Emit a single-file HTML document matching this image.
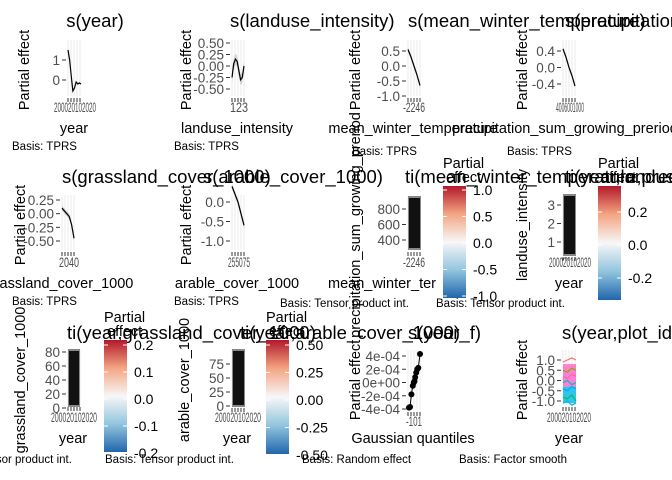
<!DOCTYPE html>
<html><head><meta charset="utf-8"><style>
html,body{margin:0;padding:0;background:#fff;}
svg{display:block;font-family:"Liberation Sans",Arial,sans-serif;}
.t{font-size:18.5px;fill:#000;}
.ax{font-size:14.5px;fill:#000;}
.lg{font-size:14px;fill:#000;}
.tk{font-size:13.5px;fill:#4d4d4d;}
.bs{font-size:11.5px;fill:#000;}
</style></head><body>
<svg id="c" width="672" height="480" viewBox="0 0 672 480">
<defs>
<linearGradient id="rb" x1="0" y1="1" x2="0" y2="0">
<stop offset="0" stop-color="#2166ac"/><stop offset="0.25" stop-color="#92c5de"/><stop offset="0.5" stop-color="#f7f7f7"/><stop offset="0.75" stop-color="#f4a582"/><stop offset="1" stop-color="#b2182b"/>
</linearGradient>
</defs>
</svg>
<script>
// ---- data arrays ----
const yearEffect = [1.5, 1.0, 0.2, -0.55, -0.4, -0.1, -0.2, -0.15, -0.2];
const landuseEffect = [-0.25, 0.05, 0.15, 0.1, -0.1, -0.3, -0.25, 0.0];
const winterTempEffect = [0.55, 0.3, 0.0, -0.3, -0.65];
const precipEffect = [0.45, 0.25, 0.0, -0.2, -0.45];
const grasslandEffect = [0.1, 0.05, 0.0, -0.05, -0.2, -0.45];
const arableEffect = [0.4, 0.2, 0.0, -0.3, -0.6];
const reQuantiles = [-1.6, -1.3, -0.9, -0.5, -0.2, 0.0, 0.2, 0.5, 0.8, 1.1, 1.6];
const reEffects = [-3.8e-4, -3.7e-4, -1.8e-4, -0.5e-4, 0, 0.2e-4, 0.8e-4, 1.5e-4, 2e-4, 2.2e-4, 4.3e-4];
const plotSeries = [[0.9, 1.0, 1.1, 1.0], [0.5, 0.4, 0.6, 0.5], [0.2, 0.1, 0.3, 0.2], [-0.1, 0.0, -0.2, -0.1], [-0.4, -0.5, -0.3, -0.4], [-0.8, -0.9, -0.7, -1.0], [-1.1, -1.0, -1.2, -1.1]];
const plotColors = ["#f8766d", "#7cae00", "#ff61c3", "#00bfc4", "#00a9ff", "#00be67", "#00b8e7"];

const svg = document.getElementById('c');
const NS = 'http://www.w3.org/2000/svg';
function el(tag, attrs, parent) {
  const e = document.createElementNS(NS, tag);
  for (const k in attrs) e.setAttribute(k, attrs[k]);
  (parent || svg).appendChild(e);
  return e;
}
function txt(s, x, y, cls, anchor, rot, len) {
  const e = el('text', {x: x, y: y, class: cls, 'text-anchor': anchor || 'start'});
  if (rot) e.setAttribute('transform', 'rotate(-90 ' + x + ' ' + y + ')');
  if (len) { e.setAttribute('textLength', len); e.setAttribute('lengthAdjust', 'spacingAndGlyphs'); }
  e.textContent = s;
  return e;
}
function lin(v1, p1, v2, p2) { return v => p1 + (v - v1) * (p2 - p1) / (v2 - v1); }

function frame(x0, x1, y0, y1, name) {
  const g = el('g', {});
  
  
  for (let x = x0; x <= x1; x += 3) el('line', {x1: x, x2: x, y1: y0, y2: y1, stroke: '#ebebeb', 'stroke-width': 1}, g);
  for (let x = x0; x <= x1; x += 3) el('line', {x1: x, x2: x, y1: y1 + 2, y2: y1 + 6, stroke: '#333', 'stroke-width': 1}, g);
  return g;
}
function yticks(g, ticks, labels, ys, xLeft) {
  ticks.forEach((t, i) => {
    const y = ys(t);
    el('line', {x1: xLeft - 6, x2: xLeft - 2, y1: y, y2: y, stroke: '#333'}, g);
    txt(labels[i], xLeft - 8, y + 5, 'tk', 'end');
  });
}
function linePanel(vals, x0, x1, ys, g, band) {
  const xs = lin(0, x0, vals.length - 1, x1);
  if (band) {
    let up = vals.map((v, i) => xs(i) + ',' + ys(v + band)).join(' ');
    let dn = vals.map((v, i) => xs(i) + ',' + ys(v - band)).reverse().join(' ');
    el('polygon', {points: up + ' ' + dn, fill: '#000', 'fill-opacity': 0.15}, g);
  }
  el('polyline', {points: vals.map((v, i) => xs(i) + ',' + ys(v)).join(' '), fill: 'none', stroke: '#000', 'stroke-width': 1.2}, g);
}
function colorbar(x, y0, y1, ticks, labels, vs, name) {
  const g = el('g', {});
  
  
  el('rect', {x: x, y: y0, width: 23, height: y1 - y0, fill: 'url(#rb)'}, g);
  ticks.forEach((t, i) => {
    const y = vs(t);
    el('line', {x1: x, x2: x + 4, y1: y, y2: y, stroke: '#fff'}, g);
    el('line', {x1: x + 19, x2: x + 23, y1: y, y2: y, stroke: '#fff'}, g);
    txt(labels[i], x + 30, y + 5, 'lg');
  });
  txt('Partial', x, y0 - 18, 'ax');
  txt('effect', x + 3, y0 - 4, 'ax');
}
function heat(x0, x1, y0, y1, g) {
  el('rect', {x: x0, y: y0, width: x1 - x0, height: y1 - y0, fill: '#888'}, g);
  el('rect', {x: x0 + 1, y: y0 + 2, width: x1 - x0 - 2, height: y1 - y0 - 4, fill: '#111'}, g);
}

// ---------- Row 1 ----------
let g, ys;
txt('s(year)', 95, 27, 't', 'middle');
g = frame(68, 82, 40, 96, 'year-smooth-panel');
ys = lin(0, 80, 1, 60);
yticks(g, [1, 0], ['1', '0'], ys, 68);
linePanel(yearEffect, 68, 81, ys, g, 0.05);
txt('200020102020', 75, 112, 'tk', 'middle', false, 42);
txt('year', 74, 133, 'ax', 'middle');
txt('Partial effect', 29, 70, 'ax', 'middle', true);
txt('Basis: TPRS', 12, 150, 'bs');

txt('s(landuse_intensity)', 230, 27, 't');
g = frame(232, 245, 40, 96, 'landuse-smooth-panel');
ys = lin(0.5, 43, -0.5, 89);
yticks(g, [0.5, 0.25, 0, -0.25, -0.5], ['0.50', '0.25', '0.00', '-0.25', '-0.50'], ys, 232);
linePanel(landuseEffect, 232, 244, ys, g, 0.12);
txt('123', 239, 112, 'tk', 'middle', false, 18);
txt('landuse_intensity', 237, 133, 'ax', 'middle');
txt('Partial effect', 191, 70, 'ax', 'middle', true);
txt('Basis: TPRS', 174, 150, 'bs');

txt('s(mean_winter_temperature)', 408, 27, 't');
g = frame(408, 420, 40, 96, 'winter-temp-smooth-panel');
ys = lin(0.5, 51, -1, 96);
yticks(g, [0.5, 0, -0.5, -1], ['0.5', '0.0', '-0.5', '-1.0'], ys, 408);
linePanel(winterTempEffect, 408, 420, ys, g, 0.08);
txt('-2246', 414, 112, 'tk', 'middle', false, 22);
txt('mean_winter_temperature', 413, 133, 'ax', 'middle');
txt('Partial effect', 360, 70, 'ax', 'middle', true);
txt('Basis: TPRS', 352, 155, 'bs');

txt('s(precipitation_sum_growing_preriod)', 565, 27, 't');
g = frame(563, 576, 40, 96, 'precip-smooth-panel');
ys = lin(0.4, 51, -0.4, 84);
yticks(g, [0.4, 0, -0.4], ['0.4', '0.0', '-0.4'], ys, 563);
linePanel(precipEffect, 563, 575, ys, g, 0.06);
txt('4006001000', 570, 112, 'tk', 'middle', false, 28);
txt('precipitation_sum_growing_preriod', 565, 133, 'ax', 'middle');
txt('Partial effect', 527, 70, 'ax', 'middle', true);
txt('Basis: TPRS', 507, 155, 'bs');

// ---------- Row 2 ----------
txt('s(grassland_cover_1000)', 62, 183, 't');
g = frame(62, 75, 195, 250, 'grassland-smooth-panel');
ys = lin(0.25, 200, -0.5, 241);
yticks(g, [0.25, 0, -0.25, -0.5], ['0.25', '0.00', '-0.25', '-0.50'], ys, 62);
linePanel(grasslandEffect, 62, 74, ys, g, 0.05);
txt('2040', 69, 267, 'tk', 'middle', false, 20);
txt('grassland_cover_1000', 60, 288, 'ax', 'middle');
txt('Partial effect', 25, 225, 'ax', 'middle', true);
txt('Basis: TPRS', 12, 305, 'bs');

txt('s(arable_cover_1000)', 203, 183, 't');
g = frame(232, 245, 195, 250, 'arable-smooth-panel');
ys = lin(0, 202, -1, 241);
yticks(g, [0, -0.5, -1], ['0.0', '-0.5', '-1.0'], ys, 232);
linePanel(arableEffect, 232, 244, ys, g, 0.08);
txt('255075', 239, 267, 'tk', 'middle', false, 22);
txt('arable_cover_1000', 237, 288, 'ax', 'middle');
txt('Partial effect', 191, 225, 'ax', 'middle', true);
txt('Basis: TPRS', 174, 305, 'bs');

txt('ti(mean_winter_temperature,precipitation_sum_growing_preriod)', 405, 183, 't');
g = frame(408, 421, 197, 250, 'winter-precip-tensor-panel');
heat(408, 421, 196, 250, g);
ys = lin(800, 209, 400, 240);
yticks(g, [800, 600, 400], ['800', '600', '400'], ys, 408);
txt('-2246', 414, 267, 'tk', 'middle', false, 22);
txt('mean_winter_ter', 382, 288, 'ax', 'middle');
txt('precipitation_sum_growing_preriod', 360, 225, 'ax', 'middle', true);
colorbar(443, 186, 298, [1, 0.5, 0, -0.5, -1], ['1.0', '0.5', '0.0', '-0.5', '-1.0'], lin(1, 190, -1, 296), 'legend-colorbar-winter-precip');

txt('ti(year,landuse_intensity)', 565, 183, 't');
g = frame(563, 576, 195, 255, 'year-landuse-tensor-panel');
heat(563, 576, 194, 256, g);
ys = lin(3, 205, 1, 242);
yticks(g, [3, 2, 1], ['3', '2', '1'], ys, 563);
txt('200020102020', 570, 267, 'tk', 'middle', false, 42);
txt('year', 569, 288, 'ax', 'middle');
txt('landuse_intensity', 527, 225, 'ax', 'middle', true);
colorbar(598, 186, 300, [0.2, 0, -0.2], ['0.2', '0.0', '-0.2'], lin(0.2, 212, -0.2, 278), 'legend-colorbar-year-landuse');
txt('Basis: Tensor product int.', 436, 307, 'bs');
txt('Basis: Tensor product int.', 280, 307, 'bs');

// ---------- Row 3 ----------
txt('ti(year,grassland_cover_1000)', 67, 339, 't');
g = frame(68, 80, 350, 405, 'year-grassland-tensor-panel');
heat(68, 80, 349, 407, g);
ys = lin(80, 352, 0, 408);
yticks(g, [80, 60, 40, 20, 0], ['80', '60', '40', '20', '0'], ys, 68);
txt('200020102020', 74, 422, 'tk', 'middle', false, 46);
txt('year', 73, 443, 'ax', 'middle');
txt('grassland_cover_1000', 25, 380, 'ax', 'middle', true);
colorbar(104, 340, 452, [0.2, 0.1, 0, -0.1, -0.2], ['0.2', '0.1', '0.0', '-0.1', '-0.2'], lin(0.2, 345, -0.2, 453), 'legend-colorbar-year-grassland');
txt('Basis: Tensor product int.', -57, 463, 'bs');

txt('ti(year,arable_cover_1000)', 240, 339, 't');
g = frame(232, 245, 350, 406, 'year-arable-tensor-panel');
heat(232, 245, 349, 407, g);
ys = lin(75, 364, 0, 406);
yticks(g, [75, 50, 25, 0], ['75', '50', '25', '0'], ys, 232);
txt('200020102020', 238, 422, 'tk', 'middle', false, 46);
txt('year', 237, 443, 'ax', 'middle');
txt('arable_cover_1000', 189, 380, 'ax', 'middle', true);
colorbar(266, 340, 454, [0.5, 0.25, 0, -0.25, -0.5], ['0.50', '0.25', '0.00', '-0.25', '-0.50'], lin(0.5, 345, -0.5, 455), 'legend-colorbar-year-arable');
txt('Basis: Tensor product int.', 105, 463, 'bs');

txt('s(year_f)', 408, 339, 't');
g = frame(408, 420, 350, 410, 'year-f-random-effect-panel');
ys = lin(4e-4, 356, -4e-4, 409);
yticks(g, [4e-4, 2e-4, 0, -2e-4, -4e-4], ['4e-04', '2e-04', '0e+00', '-2e-04', '-4e-04'], ys, 408);
const xq = lin(-1.6, 409, 1.6, 420);
el('polyline', {points: reQuantiles.map((q, i) => xq(q) + ',' + ys(reEffects[i])).join(' '), fill: 'none', stroke: '#000'}, g);
reQuantiles.forEach((q, i) => {
  const c = el('circle', {cx: xq(q), cy: ys(reEffects[i]), r: 3, fill: '#000'}, g);
  
  
});
txt('-101', 414, 426, 'tk', 'middle', false, 16);
txt('Gaussian quantiles', 413, 443, 'ax', 'middle');
txt('Partial effect', 360, 380, 'ax', 'middle', true);
txt('Basis: Random effect', 302, 463, 'bs');

txt('s(year,plot_id)', 562, 339, 't');
g = frame(563, 576, 350, 405, 'year-plot-factor-smooth-panel');
ys = lin(1, 360, -1, 401);
yticks(g, [1, 0.5, 0, -0.5, -1], ['1.0', '0.5', '0.0', '-0.5', '-1.0'], ys, 563);
el('rect', {x: 563, y: ys(0.8), width: 13, height: ys(-0.3) - ys(0.8), fill: '#ff61c3', 'fill-opacity': 0.8}, g);
el('rect', {x: 563, y: ys(-0.3), width: 13, height: ys(-1.1) - ys(-0.3), fill: '#00b8e7', 'fill-opacity': 0.8}, g);
plotSeries.forEach((s, k) => {
  const xs = lin(0, 563, s.length - 1, 576);
  const p = el('polyline', {points: s.map((v, i) => xs(i) + ',' + ys(v)).join(' '), fill: 'none', stroke: plotColors[k], 'stroke-width': 1.2}, g);
  
  
});
txt('200020102020', 569, 422, 'tk', 'middle', false, 44);
txt('year', 569, 443, 'ax', 'middle');
txt('Partial effect', 527, 380, 'ax', 'middle', true);
txt('Basis: Factor smooth', 459, 463, 'bs');
</script>
</body></html>
